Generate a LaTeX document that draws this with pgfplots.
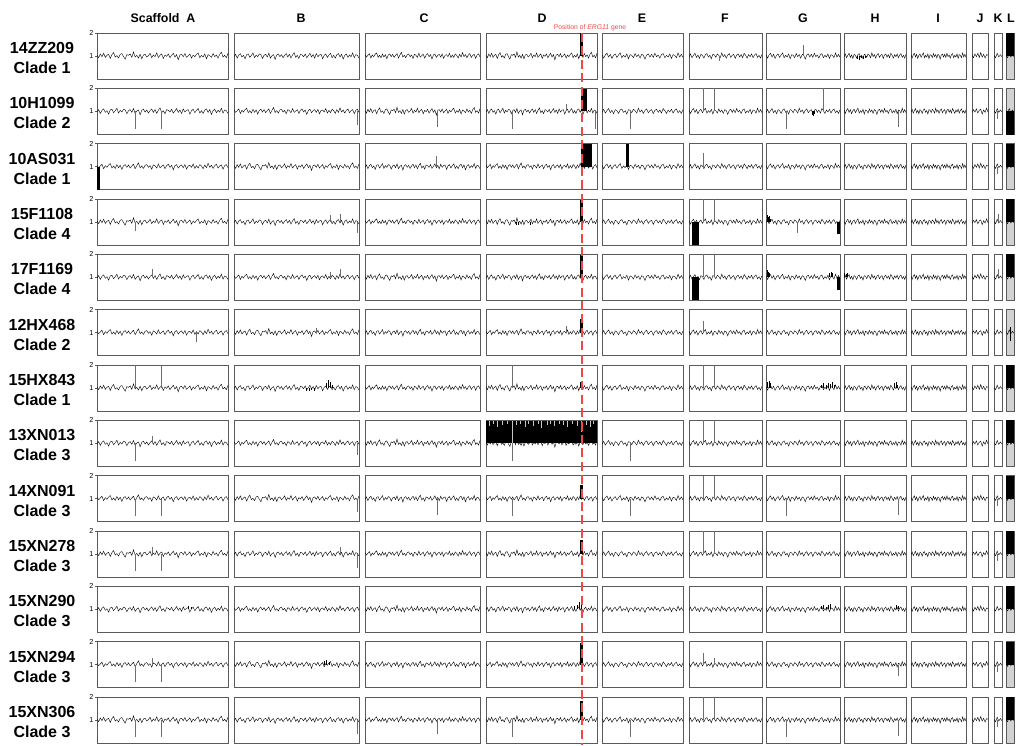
\documentclass[border=0pt]{standalone}
\usepackage{pgfplots}
\pgfplotsset{compat=1.18}
\usepackage{pgfplotstable}
\usepackage{fontspec}
\setmainfont{Liberation Sans}

\definecolor{frame}{HTML}{5A5A5A}
\definecolor{spk}{HTML}{6E6E6E}
\definecolor{lgray}{HTML}{D2D2D2}
\definecolor{ergred}{HTML}{F04848}

% baseline noise of the read-depth ratio traces (ratio-1)
\pgfplotstableread[header=false,row sep=\\]{
0.03\\-0.05\\0.06\\-0.02\\0.08\\-0.04\\0.02\\0.05\\-0.07\\0.04\\
0.10\\-0.03\\0.01\\-0.06\\0.05\\0.07\\-0.02\\-0.09\\0.04\\0.02\\
0.06\\-0.04\\0.12\\-0.03\\0.02\\-0.06\\0.05\\-0.08\\0.03\\0.05\\
-0.03\\0.01\\0.08\\-0.05\\0.03\\-0.02\\0.09\\-0.04\\0.02\\0.06\\
-0.07\\0.03\\-0.01\\0.06\\-0.05\\0.02\\0.08\\-0.03\\0.04\\-0.11\\
0.03\\0.05\\-0.02\\0.07\\-0.04\\0.01\\0.06\\-0.06\\0.03\\-0.02\\
0.05\\0.09\\-0.05\\0.02\\-0.03\\0.06\\-0.08\\0.04\\0.01\\-0.04\\
0.07\\-0.02\\0.03\\-0.06\\0.05\\0.11\\-0.03\\0.02\\-0.05\\0.08\\
}\NA
\pgfplotstableread[header=false,row sep=\\]{
-0.02\\0.05\\-0.06\\0.03\\0.07\\-0.03\\0.02\\-0.08\\0.04\\0.06\\
-0.04\\0.02\\0.09\\-0.05\\0.03\\-0.02\\0.06\\0.04\\-0.07\\0.02\\
0.05\\-0.03\\0.08\\-0.06\\0.01\\0.04\\-0.10\\0.03\\0.06\\-0.02\\
0.04\\-0.05\\0.02\\0.07\\-0.03\\0.05\\-0.06\\0.03\\0.10\\-0.04\\
0.02\\-0.07\\0.05\\0.03\\-0.02\\0.06\\-0.05\\0.01\\0.08\\-0.03\\
0.04\\-0.06\\0.07\\-0.02\\0.03\\0.05\\-0.08\\0.02\\0.06\\-0.04\\
0.03\\0.08\\-0.05\\0.02\\-0.06\\0.04\\0.07\\-0.03\\0.05\\-0.09\\
0.02\\0.06\\-0.04\\0.03\\-0.02\\0.09\\-0.05\\0.04\\0.02\\-0.06\\
}\NB
\pgfplotstableread[header=false,row sep=\\]{
0.04\\-0.03\\0.02\\0.07\\-0.06\\0.03\\-0.02\\0.05\\0.09\\-0.04\\
0.02\\-0.05\\0.06\\-0.03\\0.04\\-0.08\\0.03\\0.06\\-0.02\\0.05\\
-0.04\\0.02\\0.07\\-0.06\\0.03\\0.11\\-0.03\\0.02\\-0.05\\0.04\\
0.06\\-0.02\\0.03\\-0.07\\0.05\\0.02\\-0.04\\0.08\\-0.03\\0.01\\
0.05\\-0.06\\0.03\\0.07\\-0.02\\0.04\\-0.09\\0.03\\0.06\\-0.04\\
0.02\\0.05\\-0.03\\0.06\\-0.07\\0.02\\0.04\\-0.02\\0.08\\-0.05\\
0.03\\-0.04\\0.06\\0.02\\-0.06\\0.05\\-0.03\\0.10\\-0.02\\0.04\\
-0.05\\0.03\\0.07\\-0.04\\0.02\\0.05\\-0.07\\0.03\\0.06\\-0.03\\
}\NC
\pgfplotstableread[header=false,row sep=\\]{
0.04\\-0.06\\0.03\\0.08\\-0.03\\0.05\\-0.07\\0.02\\0.06\\-0.04\\
0.03\\0.09\\-0.05\\0.02\\-0.03\\0.06\\-0.08\\0.04\\0.02\\-0.05\\
0.07\\-0.02\\0.04\\-0.06\\0.05\\0.02\\-0.09\\0.03\\0.06\\-0.03\\
0.05\\-0.04\\0.08\\-0.02\\0.03\\-0.06\\0.04\\0.07\\-0.05\\0.02\\
-0.03\\0.06\\-0.07\\0.04\\0.02\\-0.05\\0.09\\-0.03\\0.05\\-0.04\\
}\ND
\pgfplotstableread[header=false,row sep=\\]{
-0.03\\0.06\\-0.05\\0.02\\0.08\\-0.04\\0.03\\-0.07\\0.05\\0.02\\
-0.06\\0.04\\0.07\\-0.03\\0.02\\-0.08\\0.05\\0.03\\-0.04\\0.06\\
0.02\\-0.05\\0.09\\-0.02\\0.04\\-0.06\\0.03\\0.07\\-0.04\\0.02\\
0.05\\-0.07\\0.03\\0.06\\-0.03\\0.04\\-0.05\\0.08\\0.02\\-0.06\\
0.04\\-0.02\\0.06\\-0.05\\0.03\\0.07\\-0.04\\0.02\\-0.06\\0.05\\
}\NE
\pgfplotstableread[header=false,row sep=\\]{
0.03\\-0.05\\0.06\\-0.02\\0.08\\-0.04\\0.10\\-0.03\\0.05\\-0.06\\0.04\\0.02\\
}\NJ
\pgfplotstableread[header=false,row sep=\\]{
-0.04\\0.05\\-0.02\\0.07\\-0.05\\0.03\\0.06\\-0.08\\0.04\\-0.03\\0.09\\-0.02\\
}\NJb
\pgfplotstableread[header=false,row sep=\\]{
0.02\\-0.05\\0.08\\-0.03\\0.04\\-0.02\\
}\NK
% 13XN013 scaffold D: whole scaffold gained; light notches in its top edge
\pgfplotstableread[row sep=\\]{
x y\\
0.03 0.95\\0.03 0.76\\0.03 nan\\0.07 0.95\\0.07 0.84\\0.07 nan\\
0.10 0.95\\0.10 0.70\\0.10 nan\\0.15 0.95\\0.15 0.80\\0.15 nan\\
0.19 0.95\\0.19 0.86\\0.19 nan\\0.24 0.95\\0.24 0.00\\0.24 nan\\
0.27 0.95\\0.27 0.78\\0.27 nan\\0.31 0.95\\0.31 0.84\\0.31 nan\\
0.35 0.95\\0.35 0.72\\0.35 nan\\0.38 0.95\\0.38 0.86\\0.38 nan\\
0.43 0.95\\0.43 0.76\\0.43 nan\\0.47 0.95\\0.47 0.82\\0.47 nan\\
0.50 0.95\\0.50 0.68\\0.50 nan\\0.55 0.95\\0.55 0.80\\0.55 nan\\
0.58 0.95\\0.58 0.86\\0.58 nan\\0.62 0.95\\0.62 0.74\\0.62 nan\\
0.66 0.95\\0.66 0.83\\0.66 nan\\0.70 0.95\\0.70 0.78\\0.70 nan\\
0.73 0.95\\0.73 0.70\\0.73 nan\\0.78 0.95\\0.78 0.85\\0.78 nan\\
0.82 0.95\\0.82 0.76\\0.82 nan\\0.86 0.95\\0.86 0.50\\0.86 nan\\
0.90 0.95\\0.90 0.80\\0.90 nan\\0.94 0.95\\0.94 0.72\\0.94 nan\\
0.97 0.95\\0.97 0.84\\
}\Dnotch

\pgfplotsset{
  panel/.style={anchor=north west, scale only axis, height=23pt,
    xmin=0, xmax=1, ymin=-1, ymax=1, xtick=\empty, ytick=\empty,
    axis line style={frame, line width=0.45pt}},
  trace/.style={black, line width=0.2pt, mark=none},
  spike/.style={spk, line width=0.3pt, ycomb, mark=none},
  bspike/.style={black, line width=0.35pt, ycomb, mark=none},
  blk/.style={fill=black, draw=black, line width=0.1pt, mark=none},
  yl/.style={ytick={0,1}, yticklabels={1,2}, ytick pos=left, tick align=outside,
    major tick length=1pt, tick style={frame, line width=0.3pt},
    yticklabel style={font=\fontsize{3.6}{4}\selectfont, inner sep=0.6pt}},
}

% #1 opts, #2 left px, #3 width px, #4 row, #5 table, #6 last index, #7 extra plots
\newcommand{\pnl}[7][]{%
  \pgfmathsetmacro\pX{#2*0.5}%
  \pgfmathsetmacro\pY{-(33+55.33*(#4-1))*0.5}%
  \pgfmathsetmacro\pW{#3*0.5}%
  \begin{axis}[panel, #1, at={(\pX pt,\pY pt)}, width=\pW pt]
    \addplot[trace] table[x expr=\coordindex/#6, y index=0, y expr=1.5*\thisrowno{0}] {#5};
    #7
  \end{axis}}
\newcommand{\spk}[1]{\addplot[spike] coordinates {#1};}
\newcommand{\bsp}[1]{\addplot[bspike] coordinates {#1};}
\newcommand{\bk}[3]{\addplot[blk] coordinates {(#1,0) (#1,#3) (#2,#3) (#2,0)};}

\newcommand{\cA}[3]{\pnl[yl]{97}{131}{#1}{#2}{79}{#3}}
\newcommand{\cB}[3]{\pnl{234}{125}{#1}{#2}{79}{#3}}
\newcommand{\cC}[3]{\pnl{365}{115}{#1}{#2}{79}{#3}}
\newcommand{\cD}[3]{\pnl{486}{111}{#1}{#2}{79}{#3}}
\newcommand{\cE}[3]{\pnl{602}{81}{#1}{#2}{49}{#3}}
\newcommand{\cF}[3]{\pnl{689}{73}{#1}{#2}{49}{#3}}
\newcommand{\cG}[3]{\pnl{766}{74}{#1}{#2}{49}{#3}}
\newcommand{\cH}[3]{\pnl{844}{62}{#1}{#2}{49}{#3}}
\newcommand{\cI}[3]{\pnl{911}{55}{#1}{#2}{49}{#3}}
\newcommand{\cJ}[3]{\pnl{972}{16}{#1}{#2}{11}{#3}}
\newcommand{\cK}[3]{\pnl{994}{8}{#1}{#2}{5}{#3}}
\newcommand{\cL}[2]{\pnl[axis background/.style={fill=lgray}]{1006}{8}{#1}{\NK}{5}{#2}}

\begin{document}
\begin{tikzpicture}
\path[use as bounding box] (0,0) rectangle (509pt,-372.5pt);

\begin{scope}[font=\bfseries\fontsize{6.2}{7}\selectfont]
\node at (81.5pt,-9pt) {Scaffold\ \ A};
\node at (150.5pt,-9pt) {B};
\node at (212pt,-9pt) {C};
\node at (271pt,-9pt) {D};
\node at (321pt,-9pt) {E};
\node at (362.5pt,-9pt) {F};
\node at (401.5pt,-9pt) {G};
\node at (437.5pt,-9pt) {H};
\node at (469pt,-9pt) {I};
\node at (490pt,-9pt) {J};
\node at (499pt,-9pt) {K};
\node at (505.5pt,-9pt) {L};
\end{scope}
\node[text=ergred, font=\fontsize{3.4}{4}\selectfont] at (295pt,-14pt) {Position of \textit{ERG11} gene};

\foreach \n/\c [count=\i] in {14ZZ209/1,10H1099/2,10AS031/1,15F1108/4,17F1169/4,12HX468/2,
  15HX843/1,13XN013/3,14XN091/3,15XN278/3,15XN290/3,15XN294/3,15XN306/3}{
  \pgfmathsetmacro\ly{-(33+55.33*(\i-1)+25)*0.5}
  \node[align=center, font=\bfseries\fontsize{8}{10}\selectfont] at (21pt,\ly pt) {\n\\Clade \c};
}

% row 1: 14ZZ209
\cA{1}{\NA}{}
\cB{1}{\NB}{}
\cC{1}{\NC}{}
\cD{1}{\NA}{\bk{0.852}{0.868}{1}}
\cE{1}{\ND}{}
\cF{1}{\NE}{\spk{(0.42,-0.2)}}
\cG{1}{\ND}{\spk{(0.51,0.5)}}
\cH{1}{\NE}{\bsp{(0.22,-0.12) (0.25,-0.16) (0.28,-0.1) (0.31,-0.14) (0.34,-0.08)}}
\cI{1}{\ND}{}
\cJ{1}{\NJ}{}
\cK{1}{\NK}{}
\cL{1}{\bk{0}{1}{1}}
% row 2: 10H1099
\cA{2}{\NB}{\spk{(0.29,-0.75) (0.49,-0.75)}}
\cB{2}{\NC}{\spk{(0.985,-0.6)}}
\cC{2}{\NA}{\spk{(0.63,-0.7)}}
\cD{2}{\NB}{\spk{(0.24,-0.75) (0.72,0.3) (0.985,-0.75)}\bk{0.856}{0.905}{0.95}}
\cE{2}{\NE}{\spk{(0.35,-0.75)}}
\cF{2}{\ND}{\spk{(0.19,1) (0.34,1)}}
\cG{2}{\NE}{\spk{(0.28,-0.75) (0.77,1)}\bsp{(0.62,-0.15) (0.64,-0.2) (0.66,-0.12)}}
\cH{2}{\ND}{\spk{(0.87,-0.7)}}
\cI{2}{\NE}{}
\cJ{2}{\NJb}{}
\cK{2}{\NK}{\spk{(0.4,-0.35)}}
\cL{2}{\bk{0}{1}{-1}}
% row 3: 10AS031
\cA{3}{\NC}{\bk{0}{0.016}{-1}}
\cB{3}{\NA}{}
\cC{3}{\NB}{\spk{(0.62,0.45)}}
\cD{3}{\NC}{\bk{0.856}{0.946}{1}}
\cE{3}{\ND}{\bk{0.30}{0.325}{1}}
\cF{3}{\NE}{\spk{(0.19,0.6)}}
\cG{3}{\ND}{}
\cH{3}{\NE}{}
\cI{3}{\ND}{}
\cJ{3}{\NJ}{}
\cK{3}{\NK}{\spk{(0.4,-0.3)}}
\cL{3}{\bk{0}{1}{1}}
% row 4: 15F1108
\cA{4}{\NA}{\spk{(0.29,-0.4)}}
\cB{4}{\NB}{\spk{(0.77,0.3) (0.85,0.35) (0.985,-0.5)}}
\cC{4}{\NC}{}
\cD{4}{\NA}{\bk{0.852}{0.866}{0.95}\bsp{(0.27,-0.15) (0.29,-0.12) (0.40,-0.12)}}
\cE{4}{\NE}{}
\cF{4}{\ND}{\bk{0.04}{0.12}{-0.95}\spk{(0.19,1) (0.34,1)}}
\cG{4}{\NE}{\bsp{(0.02,0.3) (0.035,0.22) (0.05,0.28) (0.065,0.15)}\spk{(0.42,-0.5)}\bk{0.965}{0.99}{-0.5}}
\cH{4}{\ND}{}
\cI{4}{\NE}{}
\cJ{4}{\NJb}{}
\cK{4}{\NK}{\spk{(0.5,0.35)}}
\cL{4}{\bk{0}{1}{1}}
% row 5: 17F1169
\cA{5}{\NB}{\spk{(0.42,0.35)}}
\cB{5}{\NC}{\spk{(0.77,0.25) (0.85,0.35)}}
\cC{5}{\NA}{}
\cD{5}{\NB}{\bk{0.852}{0.866}{0.95}}
\cE{5}{\ND}{}
\cF{5}{\NE}{\bk{0.04}{0.12}{-0.95}\spk{(0.19,1) (0.34,1)}}
\cG{5}{\ND}{\bsp{(0.02,0.3) (0.035,0.25) (0.05,0.2)}\bsp{(0.86,0.2) (0.88,0.25) (0.9,0.18)}\bk{0.965}{0.99}{-0.5}}
\cH{5}{\NE}{\bsp{(0.01,0.2) (0.03,0.15) (0.05,0.18)}}
\cI{5}{\ND}{}
\cJ{5}{\NJ}{}
\cK{5}{\NK}{\spk{(0.5,0.35)}}
\cL{5}{\bk{0}{1}{1}}
% row 6: 12HX468
\cA{6}{\NC}{\spk{(0.76,-0.4)}}
\cB{6}{\NA}{\spk{(0.66,0.2)}}
\cC{6}{\NB}{}
\cD{6}{\NC}{\spk{(0.72,0.3)}\bk{0.852}{0.864}{0.6}}
\cE{6}{\NE}{}
\cF{6}{\ND}{\spk{(0.19,0.5)}}
\cG{6}{\NE}{}
\cH{6}{\ND}{}
\cI{6}{\NE}{}
\cJ{6}{\NJb}{}
\cK{6}{\NK}{}
\cL{6}{\addplot[black, line width=0.35pt] coordinates {(0.55,-0.35) (0.55,0.25)};}
% row 7: 15HX843
\cA{7}{\NA}{\spk{(0.29,1) (0.49,1)}}
\cB{7}{\NB}{\bsp{(0.74,0.2) (0.755,0.35) (0.77,0.25) (0.785,0.15)}\bsp{(0.58,-0.12) (0.6,-0.15) (0.62,-0.1) (0.64,-0.12)}}
\cC{7}{\NC}{}
\cD{7}{\NA}{\spk{(0.24,1)}\bk{0.852}{0.866}{0.25}}
\cE{7}{\ND}{}
\cF{7}{\NE}{\spk{(0.19,1) (0.34,1)}}
\cG{7}{\ND}{\bsp{(0.02,0.25) (0.04,0.3) (0.06,0.2)}\bsp{(0.75,0.15) (0.78,0.2) (0.81,0.12) (0.84,0.22) (0.87,0.18) (0.9,0.25) (0.93,0.15)}}
\cH{7}{\NE}{\bsp{(0.82,0.2) (0.84,0.25) (0.86,0.15)}}
\cI{7}{\ND}{}
\cJ{7}{\NJ}{}
\cK{7}{\NK}{}
\cL{7}{\bk{0}{1}{1}}
% row 8: 13XN013
\cA{8}{\NB}{\spk{(0.29,-0.75) (0.42,0.3)}}
\cB{8}{\NC}{\spk{(0.985,-0.5)}}
\cC{8}{\NA}{}
\cD{8}{\NA}{\bk{0}{1}{0.95}\addplot[gray!45, line width=0.35pt, unbounded coords=jump, filter discard warning=false] table[x=x,y=y] {\Dnotch};\spk{(0.24,-0.75)}}
\cE{8}{\NE}{\spk{(0.35,-0.75)}}
\cF{8}{\ND}{\spk{(0.19,1) (0.34,1)}}
\cG{8}{\NE}{}
\cH{8}{\ND}{}
\cI{8}{\NE}{}
\cJ{8}{\NJb}{}
\cK{8}{\NK}{}
\cL{8}{\bk{0}{1}{1}}
% row 9: 14XN091
\cA{9}{\NC}{\spk{(0.29,-0.75) (0.49,-0.75)}}
\cB{9}{\NA}{\spk{(0.985,-0.6)}}
\cC{9}{\NB}{\spk{(0.63,-0.7)}}
\cD{9}{\NC}{\spk{(0.24,-0.75)}\bk{0.852}{0.866}{0.6}}
\cE{9}{\ND}{\spk{(0.35,-0.75)}}
\cF{9}{\NE}{\spk{(0.19,1) (0.34,1)}}
\cG{9}{\ND}{\spk{(0.28,-0.75)}}
\cH{9}{\NE}{\spk{(0.87,-0.7)}}
\cI{9}{\ND}{}
\cJ{9}{\NJ}{}
\cK{9}{\NK}{\spk{(0.4,-0.3)}}
\cL{9}{\bk{0}{1}{1}}
% row 10: 15XN278
\cA{10}{\NA}{\spk{(0.29,-0.75) (0.42,0.3) (0.49,-0.75)}}
\cB{10}{\NB}{\spk{(0.85,0.3) (0.985,-0.6)}}
\cC{10}{\NC}{}
\cD{10}{\NA}{\bk{0.852}{0.866}{0.6}}
\cE{10}{\NE}{}
\cF{10}{\ND}{\spk{(0.19,1) (0.34,1)}}
\cG{10}{\NE}{}
\cH{10}{\ND}{}
\cI{10}{\NE}{}
\cJ{10}{\NJb}{}
\cK{10}{\NK}{\spk{(0.4,-0.3)}}
\cL{10}{\bk{0}{1}{1}}
% row 11: 15XN290
\cA{11}{\NB}{\bsp{(0.70,0.15) (0.72,0.1)}}
\cB{11}{\NC}{}
\cC{11}{\NA}{}
\cD{11}{\NB}{\bsp{(0.8,0.15) (0.82,0.2) (0.84,0.3) (0.86,0.35)}}
\cE{11}{\ND}{}
\cF{11}{\NE}{}
\cG{11}{\ND}{\bsp{(0.75,0.15) (0.78,0.2) (0.81,0.12) (0.84,0.18) (0.87,0.22)}}
\cH{11}{\NE}{\bsp{(0.85,0.2) (0.88,0.15)}}
\cI{11}{\ND}{}
\cJ{11}{\NJ}{}
\cK{11}{\NK}{}
\cL{11}{\bk{0}{1}{1}}
% row 12: 15XN294
\cA{12}{\NC}{\spk{(0.29,-0.75) (0.42,0.3) (0.49,-0.75)}}
\cB{12}{\NA}{\bsp{(0.72,0.15) (0.74,0.2) (0.76,0.12)}}
\cC{12}{\NB}{}
\cD{12}{\NC}{\bk{0.852}{0.866}{0.95}}
\cE{12}{\NE}{}
\cF{12}{\ND}{\spk{(0.19,0.5) (0.34,0.3)}}
\cG{12}{\NE}{}
\cH{12}{\ND}{\spk{(0.87,-0.5)}}
\cI{12}{\NE}{}
\cJ{12}{\NJb}{}
\cK{12}{\NK}{\spk{(0.4,-0.3)}}
\cL{12}{\bk{0}{1}{1}}
% row 13: 15XN306
\cA{13}{\NA}{\spk{(0.29,-0.75) (0.49,-0.75)}}
\cB{13}{\NB}{\spk{(0.985,-0.6)}}
\cC{13}{\NC}{\spk{(0.63,-0.6)}}
\cD{13}{\NA}{\spk{(0.24,-0.75)}\bk{0.852}{0.866}{0.8}}
\cE{13}{\ND}{\spk{(0.35,-0.75)}}
\cF{13}{\NE}{\spk{(0.19,1) (0.34,1)}}
\cG{13}{\ND}{\spk{(0.28,-0.75)}}
\cH{13}{\NE}{\spk{(0.87,-0.7)}}
\cI{13}{\ND}{}
\cJ{13}{\NJ}{}
\cK{13}{\NK}{\spk{(0.4,-0.3)}}
\cL{13}{\bk{0}{1}{1}}

% ERG11 position marker
\draw[ergred, line width=0.8pt, dash pattern=on 4.5pt off 2.2pt] (291pt,-16.5pt) -- (291pt,-372.5pt);
\end{tikzpicture}
\end{document}
